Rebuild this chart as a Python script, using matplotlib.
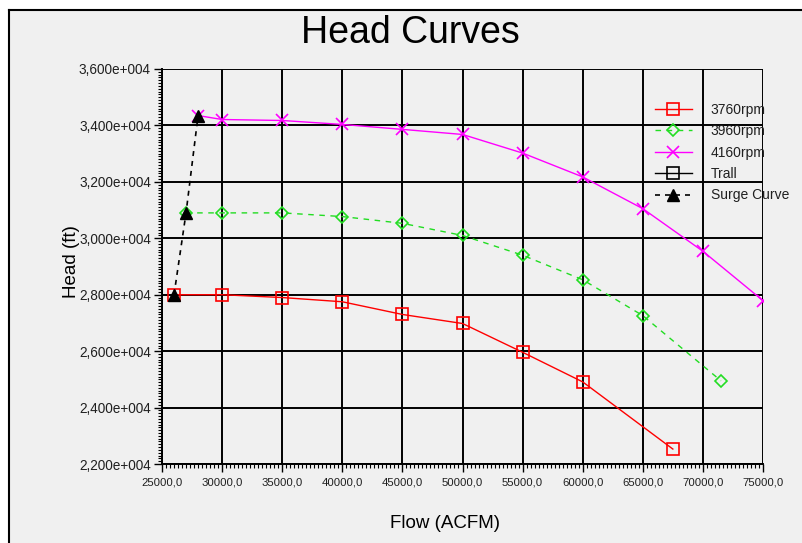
import matplotlib
matplotlib.use("Agg")
import matplotlib.pyplot as plt
from matplotlib.lines import Line2D
from matplotlib.patches import Rectangle
from matplotlib.ticker import MultipleLocator, AutoMinorLocator, FuncFormatter

plt.rcParams["font.family"] = ["Liberation Sans", "DejaVu Sans"]

BG = "#f0f0f0"

# ---- data ----
flow_3760 = [26000, 30000, 35000, 40000, 45000, 50000, 55000, 60000, 67500]
head_3760 = [28000, 28000, 27900, 27750, 27300, 26980, 25960, 24910, 22530]

flow_3960 = [27000, 30000, 35000, 40000, 45000, 50000, 55000, 60000, 65000, 71500]
head_3960 = [30900, 30900, 30900, 30770, 30530, 30100, 29400, 28530, 27260, 24950]

flow_4160 = [28000, 30000, 35000, 40000, 45000, 50000, 55000, 60000, 65000, 70000, 75000]
head_4160 = [34350, 34210, 34175, 34035, 33860, 33680, 33020, 32175, 31050, 29540, 27790]

flow_surge = [26000, 27000, 28000]
head_surge = [28000, 30900, 34350]

flow_trail = []
head_trail = []

fig = plt.figure(figsize=(8.03, 5.43), dpi=100, facecolor=BG)
ax = fig.add_axes([162 / 803, 1 - 464 / 543, (763 - 162) / 803, (464 - 69) / 543])
ax.set_facecolor(BG)

ax.plot(flow_3760, head_3760, color="red", lw=1, marker="s", ms=8,
        mfc="none", mec="red", mew=1.2, label="3760rpm", zorder=3)
ax.plot(flow_3960, head_3960, color="#22dd22", lw=1, ls=(0, (4, 4)), marker="D", ms=6,
        mfc="none", mec="#22dd22", mew=1.2, label="3960rpm", zorder=3)
ax.plot(flow_4160, head_4160, color="magenta", lw=1, marker="x", ms=8,
        mew=1.2, label="4160rpm", zorder=3)
ax.plot(flow_trail, head_trail, color="black", lw=1, marker="s", ms=8,
        mfc="none", mec="black", mew=1.2, label="Trall")
ax.plot(flow_surge, head_surge, color="black", lw=1.2, ls=(0, (3, 3)), marker="^", ms=8,
        label="Surge Curve", zorder=4)

ax.set_xlim(25000, 75000)
ax.set_ylim(22000, 36000)
ax.xaxis.set_major_locator(MultipleLocator(5000))
ax.yaxis.set_major_locator(MultipleLocator(2000))
ax.xaxis.set_minor_locator(AutoMinorLocator(15))
ax.yaxis.set_minor_locator(AutoMinorLocator(20))
ax.xaxis.set_major_formatter(FuncFormatter(lambda v, p: f"{v:.1f}".replace(".", ",")))
ax.yaxis.set_major_formatter(FuncFormatter(
    lambda v, p: f"{v / 10000:,.3f}".replace(".", ",") + "e+004"))
ax.grid(True, which="major", color="black", lw=1.4)
ax.set_axisbelow(True)
ax.tick_params(which="major", direction="out", length=6, width=1,
               labelcolor="#202020", pad=2)
ax.tick_params(which="minor", direction="out", length=3, width=0.8)
ax.tick_params(axis="x", labelsize=8.2, pad=4)
ax.tick_params(axis="y", labelsize=9.8)
for s in ["top", "right"]:
    ax.spines[s].set_visible(False)
for s in ["left", "bottom"]:
    ax.spines[s].set_linewidth(1.4)

leg = ax.legend(loc="upper left", bbox_to_anchor=(655 / 803, 1 - 103 / 543),
                bbox_transform=fig.transFigure, frameon=False, fontsize=10,
                handlelength=2.65, handletextpad=1.35, labelspacing=0.53,
                borderaxespad=0, borderpad=0)
for t in leg.get_texts():
    t.set_color("#202020")

fig.text(410 / 803, 1 - 33 / 543, "Head Curves", fontsize=27, ha="center", va="center")
fig.text(445 / 803, 1 - 523 / 543, "Flow (ACFM)", fontsize=13.5, ha="center", va="center")
fig.text(72 / 803, 1 - 262 / 543, "Head (ft)", fontsize=13.5, ha="center", va="center",
         rotation=90, zorder=5)

# outer frame: white strip at top/left with black border lines
fig.patches.append(Rectangle((0, 1 - 10 / 543), 1, 10 / 543, transform=fig.transFigure,
                             facecolor="white", edgecolor="none", zorder=0))
fig.patches.append(Rectangle((0, 0), 9 / 803, 1, transform=fig.transFigure,
                             facecolor="white", edgecolor="none", zorder=0))
fig.lines.append(Line2D([9 / 803, 1], [1 - 10 / 543] * 2, transform=fig.transFigure,
                        color="black", lw=1.5))
fig.lines.append(Line2D([9 / 803] * 2, [0, 1 - 10 / 543], transform=fig.transFigure,
                        color="black", lw=1.5))

fig.savefig("out.png", dpi=100, facecolor=BG)
